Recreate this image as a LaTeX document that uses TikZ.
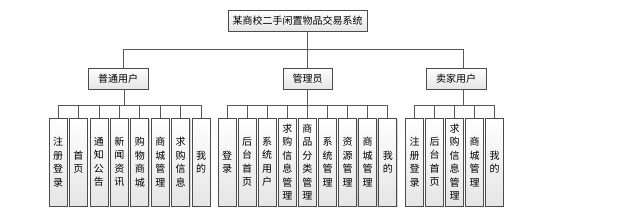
\documentclass[tikz,border=0pt]{standalone}
\usepackage{fontspec}
\newfontfamily\cjk{Noto Sans CJK SC}
\usetikzlibrary{shadows}

\tikzset{
  box/.style={draw=black!70, line width=0.8pt, top color=white, bottom color=black!10,
    drop shadow={shadow xshift=0.9pt, shadow yshift=-0.9pt, fill=black!35},
    inner sep=0pt, align=center, font=\cjk\fontsize{10}{13.5}\selectfont},
  head/.style={box, minimum height=21pt},
  leaf/.style={box, minimum width=18pt, minimum height=88pt, text width=10pt},
  link/.style={draw=black!65, line width=0.8pt}
}

\begin{document}
\begin{tikzpicture}[x=1pt,y=-1pt]
\useasboundingbox (0,0) rectangle (619,219);

% top
\node[head, minimum width=139pt] (sys) at (297.5,20.5) {某商校二手闲置物品交易系统};

% roles
\node[head, minimum width=60pt] (pt) at (118,78.5) {普通用户};
\node[head, minimum width=49pt] (gl) at (307.5,78.5) {管理员};
\node[head, minimum width=60pt] (mj) at (456,78.5) {卖家用户};

% leaves of each role
\foreach \txt [count=\i from 0] in {{注\\册\\登\\录},{首\\页},{通\\知\\公\\告},{新\\闻\\资\\讯},
    {购\\物\\商\\城},{商\\城\\管\\理},{求\\购\\信\\息},{我\\的}}
  \node[leaf] (pt-\i) at (58+20.45*\i,162) {\txt};
\foreach \txt [count=\i from 0] in {{登\\录},{后\\台\\首\\页},{系\\统\\用\\户},{求\\购\\信\\息\\管\\理},
    {商\\品\\分\\类\\管\\理},{系\\统\\管\\理},{资\\源\\管\\理},{商\\城\\管\\理},{我\\的}}
  \node[leaf] (gl-\i) at (227+20.1*\i,162) {\txt};
\foreach \txt [count=\i from 0] in {{注\\册\\登\\录},{后\\台\\首\\页},{求\\购\\信\\息\\管\\理},
    {商\\城\\管\\理},{我\\的}}
  \node[leaf] (mj-\i) at (414.5+20*\i,162) {\txt};

% connectors
\coordinate (fork) at (307.5,49);
\draw[link] ([xshift=10pt]sys.south) -- (fork);
\draw[link] (fork) -| ([xshift=5pt]pt.north);
\draw[link] (fork) -- (gl.north);
\draw[link] (fork) -| ([xshift=7pt]mj.north);

\coordinate (ptbus) at (124,105);
\coordinate (glbus) at (307.5,105);
\coordinate (mjbus) at (463,105);
\draw[link] ([xshift=6pt]pt.south) -- (ptbus);
\draw[link] (gl.south) -- (glbus);
\draw[link] ([xshift=7pt]mj.south) -- (mjbus);
\foreach \i in {0,...,7} \draw[link] (ptbus) -| (pt-\i.north);
\foreach \i in {0,...,8} \draw[link] (glbus) -| (gl-\i.north);
\foreach \i in {0,...,4} \draw[link] (mjbus) -| (mj-\i.north);
\end{tikzpicture}
\end{document}
